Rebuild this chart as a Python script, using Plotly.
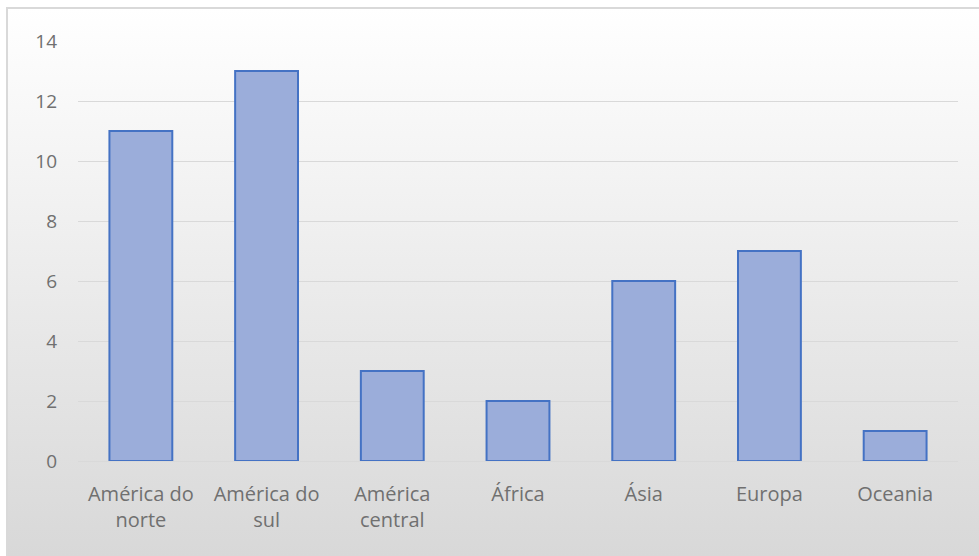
import base64
import plotly.graph_objects as go

categories = ["América do<br>norte", "América do<br>sul", "América<br>central", "África", "Ásia", "Europa", "Oceania"]
values = [11, 13, 3, 2, 6, 7, 1]
y_ticks = [0, 2, 4, 6, 8, 10, 12, 14]

W, H = 979, 556
ML, MR, MT, MB = 78, 21, 41, 95
PW, PH = W - ML - MR, H - MT - MB

svg = ('<svg xmlns="http://www.w3.org/2000/svg" width="100" height="100" preserveAspectRatio="none">'
       '<defs><linearGradient id="g" x1="0" y1="0" x2="0" y2="1">'
       '<stop offset="0" stop-color="#ffffff"/><stop offset="1" stop-color="#d8d8d8"/>'
       '</linearGradient></defs><rect width="100" height="100" fill="url(#g)"/></svg>')
src = "data:image/svg+xml;base64," + base64.b64encode(svg.encode()).decode()

fig = go.Figure(go.Bar(
    x=categories, y=values, width=0.5,
    marker=dict(color="#9badda", line=dict(color="#4472c4", width=2)),
))

fig.update_layout(
    width=W, height=H, autosize=False,
    margin=dict(l=ML, r=MR, t=MT, b=MB),
    paper_bgcolor="white", plot_bgcolor="rgba(0,0,0,0)",
    font=dict(family="Open Sans, Lato, sans-serif", size=19, color="#707070"),
    showlegend=False,
    images=[dict(source=src, xref="paper", yref="paper",
                 x=(7 - ML) / PW, y=(H - MB - 8) / PH,
                 sizex=(W - 7) / PW, sizey=(H - 8) / PH,
                 sizing="stretch", layer="below", xanchor="left", yanchor="top")],
    shapes=[dict(type="rect", xref="paper", yref="paper",
                 x0=(7 - ML) / PW, x1=(W + 5 - ML) / PW,
                 y0=-(MB + 5) / PH, y1=(H - MB - 8) / PH,
                 line=dict(color="#d9d9d9", width=2), layer="below")],
)
fig.update_xaxes(showgrid=False, showline=False, ticks="", tickangle=0,
                 tickfont=dict(size=20), ticklabelstandoff=19)
fig.update_yaxes(range=[0, 14], tickvals=y_ticks, showgrid=True, gridcolor="#d9d9d9",
                 gridwidth=1, zeroline=True, zerolinecolor="#d9d9d9", zerolinewidth=1,
                 showline=False, ticks="", ticklabelstandoff=20)

fig.write_html("out.html")
